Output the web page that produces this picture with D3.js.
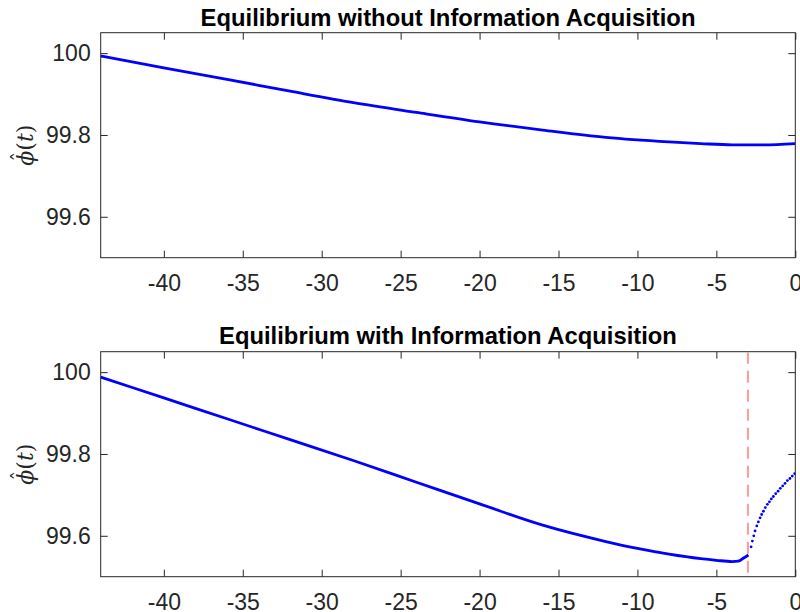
<!DOCTYPE html>
<html>
<head>
<meta charset="utf-8">
<script src="https://cdn.jsdelivr.net/npm/d3@7"></script>
<style>
  html, body { margin: 0; padding: 0; background: #fff; }
  svg { display: block; }
</style>
</head>
<body>
<svg id="chart" width="800" height="612"></svg>
<script>
// ---- Data ----
const titles = ["Equilibrium without Information Acquisition", "Equilibrium with Information Acquisition"];
const xTicks = [-40, -35, -30, -25, -20, -15, -10, -5, 0];
const yTicks = [99.6, 99.8, 100];
const xDomain = [-44, 0];
const yDomain = [99.5, 100.05];

// Top panel: equilibrium without information acquisition
const topT = [-44, -40, -36, -32, -28, -24, -20, -16, -12, -8, -6, -4, -2, 0];
const topV = [99.993, 99.964, 99.936, 99.907, 99.879, 99.855, 99.832, 99.812, 99.794, 99.783, 99.779, 99.776, 99.776, 99.779];

// Bottom panel: continuous part before the switch time
const botT = [-44, -40, -36, -32, -28, -24, -20, -16, -12, -10, -8, -6, -5, -4, -3.6, -3.3, -2.97];
const botV = [99.988, 99.937, 99.886, 99.835, 99.784, 99.731, 99.678, 99.626, 99.586, 99.569, 99.555, 99.544, 99.540, 99.537, 99.538, 99.545, 99.553];

// Bottom panel: dotted part after the switch time
const dotT = [-2.80, -2.72, -2.63, -2.55, -2.44, -2.34, -2.23, -2.13, -2.02, -1.90, -1.77, -1.64, -1.52, -1.39, -1.24, -1.09, -0.95, -0.80, -0.65, -0.50, -0.34, -0.19, -0.04];
const dotV = [99.573, 99.587, 99.600, 99.612, 99.624, 99.634, 99.644, 99.652, 99.660, 99.669, 99.677, 99.683, 99.690, 99.696, 99.703, 99.709, 99.716, 99.722, 99.728, 99.735, 99.740, 99.746, 99.752];

// Switch time (dashed vertical line)
const switchT = [-3];

// ---- Layout ----
const svg = d3.select("#chart");
const left = 100.7, right = 795.3;
const panels = [
  { top: 32.7, bottom: 257.7, title: titles[0], titleY: 26 },
  { top: 351.7, bottom: 576.7, title: titles[1], titleY: 344 }
];
const axisColor = "#262626";
const fontFam = "'Liberation Sans', Arial, Helvetica, sans-serif";
const serif = "'DejaVu Serif', 'Liberation Serif', serif";

const x = d3.scaleLinear().domain(xDomain).range([left, right]);

panels.forEach((p, i) => {
  const y = d3.scaleLinear().domain(yDomain).range([p.bottom, p.top]);
  const g = svg.append("g");

  const clipId = "clip" + i;
  svg.append("clipPath").attr("id", clipId)
    .append("rect").attr("x", left).attr("y", p.top)
    .attr("width", right - left).attr("height", p.bottom - p.top);

  const xb = d3.axisBottom(x).tickValues(xTicks).tickFormat(d => String(d))
    .tickSizeInner(-7).tickSizeOuter(0).tickPadding(17);
  const xt = d3.axisTop(x).tickValues(xTicks).tickFormat("")
    .tickSizeInner(-7).tickSizeOuter(0);
  const yl = d3.axisLeft(y).tickValues(yTicks).tickFormat(d => String(d))
    .tickSizeInner(-7).tickSizeOuter(0).tickPadding(10);
  const yr = d3.axisRight(y).tickValues(yTicks).tickFormat("")
    .tickSizeInner(-7).tickSizeOuter(0);

  const gxb = g.append("g").attr("transform", `translate(0,${p.bottom})`).call(xb);
  const gxt = g.append("g").attr("transform", `translate(0,${p.top})`).call(xt);
  const gyl = g.append("g").attr("transform", `translate(${left},0)`).call(yl);
  const gyr = g.append("g").attr("transform", `translate(${right},0)`).call(yr);
  [gxb, gxt, gyl, gyr].forEach(a => {
    a.select(".domain").remove();
    a.selectAll(".tick line").attr("stroke", axisColor).attr("stroke-width", 1);
    a.selectAll(".tick text").attr("fill", axisColor)
      .style("font-family", fontFam).style("font-size", "23px");
  });

  g.append("rect").attr("x", left).attr("y", p.top)
    .attr("width", right - left).attr("height", p.bottom - p.top)
    .attr("fill", "none").attr("stroke", axisColor).attr("stroke-width", 1);

  g.append("text").attr("x", (left + right) / 2).attr("y", p.titleY)
    .attr("text-anchor", "middle")
    .style("font-family", fontFam).style("font-size", "23.8px").style("font-weight", "bold")
    .attr("fill", "#000").text(p.title);

  // y label  \hat{\phi}(t)
  const cy = (p.top + p.bottom) / 2;
  const lg = g.append("g").attr("transform", `translate(33,${cy}) rotate(-90)`);
  const lab = lg.append("text")
    .attr("text-anchor", "middle")
    .style("font-family", serif)
    .style("font-size", "22px").attr("fill", axisColor);
  lab.append("tspan").style("font-style", "italic").text("\u03D5");
  lab.append("tspan").text("(");
  lab.append("tspan").style("font-style", "italic").text("t");
  lab.append("tspan").text(")");
  let total = 43, phiW = 12;
  try {
    total = lab.node().getComputedTextLength();
    phiW = lab.node().getSubStringLength(0, 1);
  } catch (e) {}
  lg.append("text")
    .attr("x", -total / 2 + phiW / 2 + 1.5).attr("y", -6)
    .attr("text-anchor", "middle")
    .style("font-family", serif).style("font-size", "20px")
    .attr("fill", axisColor).text("\u02C6");

  const plot = g.append("g").attr("clip-path", `url(#${clipId})`);
  const line = d3.line().x(d => x(d[0])).y(d => y(d[1])).curve(d3.curveMonotoneX);

  if (i === 0) {
    plot.append("path").datum(topT.map((t, k) => [t, topV[k]]))
      .attr("d", line).attr("fill", "none").attr("stroke", "#0000ff").attr("stroke-width", 2.8);
  } else {
    plot.selectAll("line.sw").data(switchT).enter().append("line")
      .attr("x1", d => x(d)).attr("x2", d => x(d))
      .attr("y1", p.top).attr("y2", p.bottom)
      .attr("stroke", "#ff9a9a").attr("stroke-width", 2)
      .attr("stroke-dasharray", "12,7");
    plot.append("path").datum(botT.map((t, k) => [t, botV[k]]))
      .attr("d", line).attr("fill", "none").attr("stroke", "#0000ff").attr("stroke-width", 2.8);
    plot.selectAll("circle.dot").data(dotT.map((t, k) => [t, dotV[k]])).enter()
      .append("circle").attr("class", "dot")
      .attr("cx", d => x(d[0])).attr("cy", d => y(d[1])).attr("r", 1.4)
      .attr("fill", "#0000ff");
  }
});
</script>
</body>
</html>
